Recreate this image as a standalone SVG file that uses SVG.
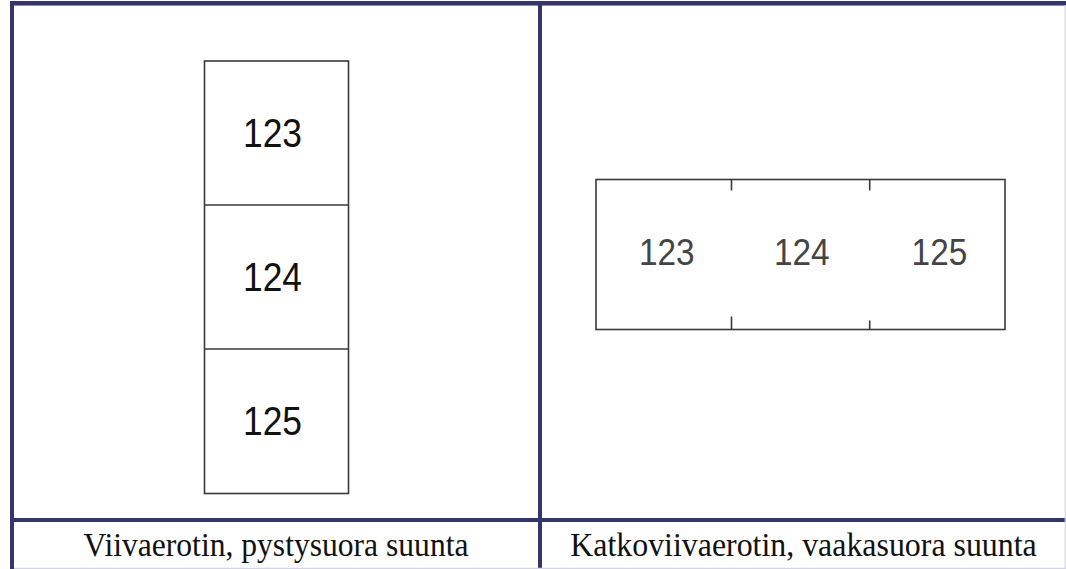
<svg xmlns="http://www.w3.org/2000/svg" width="1066" height="569" viewBox="0 0 1066 569">
<style>
.frame{stroke:#35356b;stroke-width:4;fill:none}
.hair{stroke:#d4d4e2;stroke-width:1.2;fill:none}
.box{stroke:#3a3a3a;stroke-width:1.6;fill:#fff}
.num{font-family:"Liberation Sans",Arial,sans-serif;font-size:40px;fill:#111;text-anchor:middle}
.num2{font-family:"Liberation Sans",Arial,sans-serif;font-size:36.5px;fill:#444;text-anchor:middle}
.cap{font-family:"Liberation Serif","Times New Roman",serif;font-size:33px;fill:#111;text-anchor:middle}
</style>
<rect width="1066" height="569" fill="#fff"/>
<g id="table">
<line class="hair" x1="10" y1="5.4" x2="1066" y2="5.4" style="stroke:#8a86b2"/>
<line class="frame" x1="10" y1="3" x2="1066" y2="3"/>
<line class="frame" x1="12" y1="1" x2="12" y2="569"/>
<line class="frame" x1="540" y1="1" x2="540" y2="569"/>
<line class="frame" x1="10" y1="520" x2="1066" y2="520"/>
<line class="hair" x1="1065.2" y1="5" x2="1065.2" y2="569"/>
<line class="hair" x1="14" y1="568.4" x2="1066" y2="568.4"/>
</g>
<g id="vertical-label">
<rect class="box" x="204.5" y="61" width="144" height="432.5"/>
<line class="box" x1="204.5" y1="205" x2="348.5" y2="205"/>
<line class="box" x1="204.5" y1="349" x2="348.5" y2="349"/>
<text class="num" x="272.5" y="146.7" textLength="59" lengthAdjust="spacingAndGlyphs">123</text>
<text class="num" x="272.5" y="290.7" textLength="59" lengthAdjust="spacingAndGlyphs">124</text>
<text class="num" x="272.5" y="434.7" textLength="59" lengthAdjust="spacingAndGlyphs">125</text>
</g>
<g id="horizontal-label">
<rect class="box" x="596" y="179.5" width="409" height="150"/>
<line class="box" x1="731.5" y1="179.5" x2="731.5" y2="190.5"/>
<line class="box" x1="731.5" y1="316.5" x2="731.5" y2="329.5"/>
<line class="box" x1="869.7" y1="179.5" x2="869.7" y2="190.5"/>
<line class="box" x1="869.7" y1="320.5" x2="869.7" y2="329.5"/>
<text class="num2" x="666.8" y="264.9" textLength="55.6" lengthAdjust="spacingAndGlyphs">123</text>
<text class="num2" x="801.7" y="264.9" textLength="55.6" lengthAdjust="spacingAndGlyphs">124</text>
<text class="num2" x="939.4" y="264.9" textLength="55.6" lengthAdjust="spacingAndGlyphs">125</text>
</g>
<g id="captions">
<text class="cap" x="276" y="556" textLength="385" lengthAdjust="spacingAndGlyphs">Viivaerotin, pystysuora suunta</text>
<text class="cap" x="803.5" y="556" textLength="466.5" lengthAdjust="spacingAndGlyphs">Katkoviivaerotin, vaakasuora suunta</text>
</g>
</svg>
